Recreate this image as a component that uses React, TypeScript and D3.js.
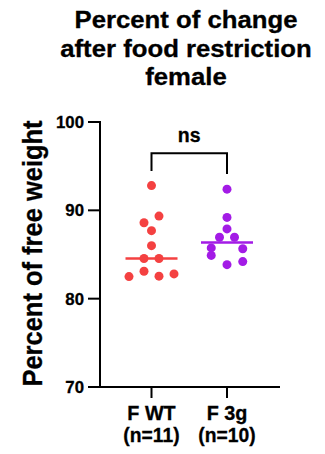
import React from "react";
import * as d3 from "d3";

const titleLines = ["Percent of change", "after food restriction", "female"];
const yLabel = "Percent of free weight";
const categories = ["F WT", "F 3g"];
const sampleLabels = ["(n=11)", "(n=10)"];
const yTicks = [70, 80, 90, 100];
const fwtValues = [92.8, 88.6, 89.35, 87.7, 86.0, 84.55, 84.55, 82.5, 83.1, 82.55, 82.8];
const f3gValues = [92.4, 89.2, 87.9, 86.95, 86.95, 85.75, 85.65, 84.9, 83.85, 84.2];
const seriesColors = ["#F44141", "#A31BE6"];
const significance = "ns";

const W = 325;
const H = 454;
const FONT = "'Liberation Sans', Arial, Helvetica, sans-serif";

function layoutRows(values: number[], y: (v: number) => number, threshold: number, spacing: number, minDist: number) {
  const idx = values.map((v, i) => i);
  idx.sort((a, b) => values[b] - values[a] || a - b);
  const rows: number[][] = [];
  let cur: number[] = [];
  let top = 0;
  idx.forEach((i) => {
    if (cur.length && y(values[i]) - top <= threshold) {
      cur.push(i);
    } else {
      if (cur.length) rows.push(cur);
      cur = [i];
      top = y(values[i]);
    }
  });
  if (cur.length) rows.push(cur);
  const offsets = new Array(values.length).fill(0);
  const rowOf = new Array(values.length).fill(0);
  const place = (r: number[], s: number) => {
    const sorted = [...r].sort((a, b) => a - b);
    sorted.forEach((i, k) => {
      offsets[i] = (k - (sorted.length - 1) / 2) * s;
    });
  };
  rows.forEach((r, ri) => {
    r.forEach((i) => (rowOf[i] = ri));
    place(r, spacing);
  });
  // widen rows that crowd a neighbouring point
  rows.forEach((r, ri) => {
    if (r.length < 2) return;
    let crowded = false;
    r.forEach((i) => {
      values.forEach((v, j) => {
        if (rowOf[j] === ri) return;
        const d = Math.hypot(offsets[i] - offsets[j], y(values[i]) - y(v));
        if (d < minDist) crowded = true;
      });
    });
    if (crowded) place(r, spacing * 2.1);
  });
  return offsets;
}

const textStyle = { fontFamily: FONT, fontWeight: "bold" as const, fill: "#000", stroke: "#000", strokeWidth: 0.3 };

export default function App() {
  const y = d3.scaleLinear().domain([70, 100]).range([387, 122]);
  const x = d3.scalePoint<string>().domain(categories).range([151.5, 227]);
  const xAxisEnd = 280;
  const axisX = 100;
  const groups = [fwtValues, f3gValues];

  return (
    <svg width={W} height={H} style={{ position: "absolute", left: 0, top: 0 }}>
      <rect width={W} height={H} fill="#fff" />
      {titleLines.map((t, i) => (
        <g key={t} transform={`translate(186,${28.3 + i * 28.4}) scale(1.1,1)`}>
          <text textAnchor="middle" fontSize={23.4} {...textStyle}>
            {t}
          </text>
        </g>
      ))}
      <g transform={`translate(41.5,253.5) scale(1.08,1) rotate(-90)`}>
        <text textAnchor="middle" fontSize={25.5} {...textStyle}>
          {yLabel}
        </text>
      </g>

      {/* y axis */}
      <line x1={axisX} x2={axisX} y1={y(100) - 1} y2={y(70) + 1} stroke="#000" strokeWidth={2} />
      {yTicks.map((t) => (
        <g key={t}>
          <line x1={axisX - 12} x2={axisX} y1={y(t)} y2={y(t)} stroke="#000" strokeWidth={2} />
          <text x={axisX - 16} y={y(t)} dy="0.36em" textAnchor="end" fontSize={16.8} {...textStyle}>
            {t}
          </text>
        </g>
      ))}

      {/* x axis */}
      <line x1={axisX - 1} x2={xAxisEnd} y1={y(70)} y2={y(70)} stroke="#000" strokeWidth={2} />
      {categories.map((c, i) => (
        <g key={c}>
          <line x1={x(c)!} x2={x(c)!} y1={y(70)} y2={y(70) + 11} stroke="#000" strokeWidth={2} />
          <text x={x(c)!} y={420} textAnchor="middle" fontSize={19.8} {...textStyle}>
            {c}
          </text>
          <text x={x(c)!} y={442} textAnchor="middle" fontSize={19.3} {...textStyle}>
            {sampleLabels[i]}
          </text>
        </g>
      ))}

      {/* points */}
      {groups.map((vals, gi) => {
        const cx = x(categories[gi])!;
        const offs = layoutRows(vals, y, 7, 15, 10.3);
        const med = d3.median(vals)!;
        return (
          <g key={gi}>
            {vals.map((v, i) => (
              <circle key={i} cx={cx + offs[i]} cy={y(v)} r={4.5} fill={seriesColors[gi]} />
            ))}
            <line x1={cx - 26} x2={cx + 26} y1={y(med)} y2={y(med)} stroke={seriesColors[gi]} strokeWidth={2.5} />
          </g>
        );
      })}

      {/* significance bracket */}
      <path
        d={`M${x(categories[0])},171 V153.3 H${x(categories[1])} V174`}
        fill="none"
        stroke="#000"
        strokeWidth={2}
      />
      <text
        x={(x(categories[0])! + x(categories[1])!) / 2}
        y={141.5}
        textAnchor="middle"
        fontSize={19.5}
        {...textStyle}
      >
        {significance}
      </text>
    </svg>
  );
}
